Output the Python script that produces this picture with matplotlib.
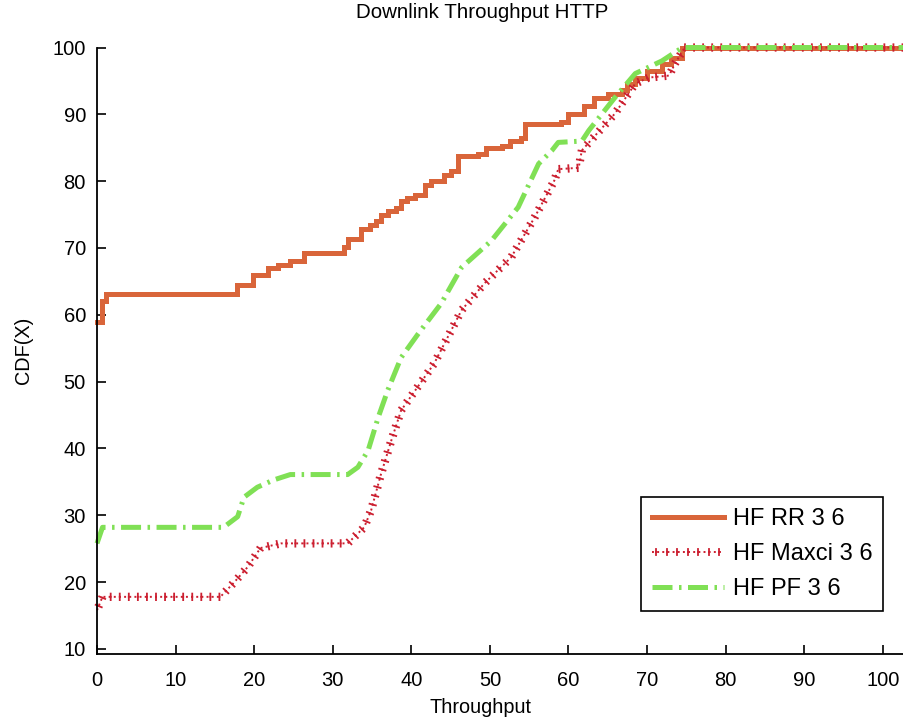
import matplotlib
matplotlib.use("Agg")
import matplotlib.pyplot as plt
from matplotlib import patheffects
from matplotlib.legend_handler import HandlerTuple

plt.rcParams['font.family'] = ['Liberation Sans', 'DejaVu Sans']

# CDF breakpoints (throughput, CDF %)
rr_x = [0, 0.7, 1.2, 16.5, 17.8, 19.8, 21.7, 23.0, 24.6, 26.3, 30.1, 31.4, 32.0, 33.6,
        34.8, 35.5, 36.1, 37.0, 38.0, 38.7, 39.5, 40.5, 41.7, 42.5, 44.2, 45.0,
        46.0, 48.5, 49.5, 51.5, 52.5, 54.0, 54.5, 59.1, 60.0, 62.0, 63.3, 65.0,
        66.8, 67.5, 68.5, 70.0, 71.9, 73.0, 74.5, 110]
rr_y = [59, 62, 63.1, 63.1, 64.4, 65.9, 67.0, 67.5, 68.1, 69.2, 69.2, 70.2, 71.3, 72.9,
        73.5, 74.0, 74.9, 75.5, 76.0, 77.1, 77.5, 78.0, 79.4, 80.0, 80.9, 81.5,
        83.8, 84.0, 85.0, 85.2, 86.0, 86.5, 88.5, 88.8, 90.1, 91.2, 92.5, 93.0,
        93.6, 94.5, 95.5, 96.5, 97.6, 98.5, 100, 100]

maxci_x = [0, 0.7, 15.7, 17.4, 19.2, 20.8, 23.4, 31.9, 34.0, 34.9, 36.1, 37.4, 38.7,
           42.9, 46.4, 49.3, 52.7, 55.7, 58.2, 58.7, 61.3, 61.7, 65.9, 68.5, 70.2,
           72.8, 73.6, 74.8, 110]
maxci_y = [15.8, 17.8, 17.8, 19.9, 22.3, 25.1, 25.8, 25.8, 28.2, 30.8, 36.0, 41.0, 45.7,
           52.7, 60.7, 64.7, 68.6, 74.6, 80.1, 81.8, 82.0, 84.6, 90.1, 94.6, 95.5,
           95.8, 97.7, 100, 100]

pf_x = [0, 0.7, 16.1, 17.9, 18.7, 20.4, 22.5, 24.6, 31.9, 33.2, 34.5, 35.8, 37.0,
        38.7, 40.9, 43.8, 46.4, 50.2, 53.6, 56.2, 57.9, 58.7, 61.7, 62.6, 65.9,
        68.5, 71.9, 74.5, 110]
pf_y = [25.8, 28.2, 28.2, 29.8, 32.7, 34.2, 35.3, 36.1, 36.1, 37.2, 39.7, 44.7, 48.7,
        53.6, 57.2, 61.7, 67.1, 71.1, 76.1, 82.6, 84.6, 85.8, 86.0, 87.6, 92.5,
        96.1, 98.0, 100, 100]

labels = ['HF RR 3 6', 'HF Maxci 3 6', 'HF PF 3 6']
x_ticks = [0, 10, 20, 30, 40, 50, 60, 70, 80, 90, 100]
y_ticks = [10, 20, 30, 40, 50, 60, 70, 80, 90, 100]

red = '#CC1F30'

fig = plt.figure(figsize=(9.04, 7.22), dpi=100)
ax = fig.add_axes([0.1073, 0.0942, 0.8927, 0.840])

rr_line, = ax.plot(rr_x, rr_y, color='#D9653A', lw=3.6, drawstyle='steps-post',
                   solid_joinstyle='miter', clip_on=False)
# dotted line plus small cross ticks along it (MATLAB ':+' look)
mx_line, = ax.plot(maxci_x, maxci_y, color=red, lw=1.4, ls=':', clip_on=False)
ticks = [patheffects.TickedStroke(spacing=6.5, angle=90, length=0.36, linewidth=1.3),
         patheffects.TickedStroke(spacing=6.5, angle=-90, length=0.36, linewidth=1.3)]
mx_ticks, = ax.plot(maxci_x, maxci_y, color=red, lw=1.3, clip_on=False,
                    path_effects=ticks)
pf_line, = ax.plot(pf_x, pf_y, color='#80E055', lw=3.6, ls=(0, (4, 1.3, 0.5, 1.3)),
                   clip_on=False)

ax.set_xlim(0, 102.7)
ax.set_ylim(9.25, 100)
ax.set_xticks(x_ticks)
ax.set_yticks(y_ticks)
ax.tick_params(direction='in', length=6.5, width=1.2, labelsize=14.5)
ax.tick_params(axis='x', pad=12)
ax.tick_params(axis='y', pad=8)
for side in ['top', 'right']:
    ax.spines[side].set_visible(False)
for side in ['left', 'bottom']:
    ax.spines[side].set_linewidth(1.3)

ax.set_title('Downlink Throughput HTTP', fontsize=14.8, pad=21, x=0.477)
ax.set_xlabel('Throughput', fontsize=14.3, labelpad=3)
ax.xaxis.set_label_coords(0.4746, -0.073)
ax.set_ylabel('CDF(X)', fontsize=14.3, labelpad=14)

leg = ax.legend([rr_line, (mx_line, mx_ticks), pf_line], labels,
                handler_map={tuple: HandlerTuple(ndivide=1)},
                loc='upper left', bbox_to_anchor=(0.709, 0.311),
                bbox_transform=fig.transFigure, fontsize=17, fancybox=False,
                edgecolor='black', framealpha=1, handlelength=3.05,
                handletextpad=0.38, labelspacing=0.55, borderpad=0.45,
                borderaxespad=0)
leg.get_frame().set_linewidth(1.2)

fig.savefig('out.png', dpi=100)
